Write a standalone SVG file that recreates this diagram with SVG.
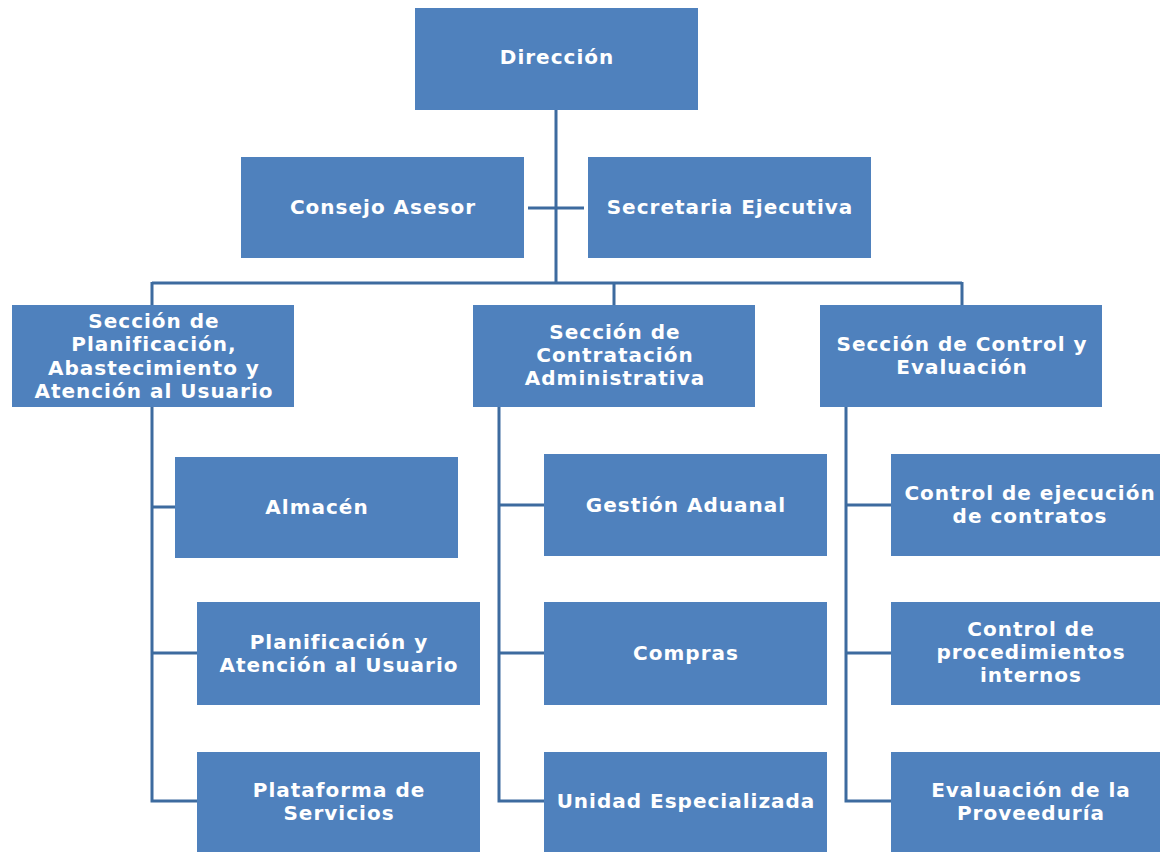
<svg xmlns="http://www.w3.org/2000/svg" width="1160" height="852" viewBox="0 0 1160 852">
<style>
.box{fill:#4F81BD;}
.t{fill:#FFFFFF;font-family:"DejaVu Sans",Verdana,sans-serif;font-weight:bold;font-size:20px;letter-spacing:1px;text-anchor:middle;}
.ln{fill:none;stroke:#3D6B9F;stroke-width:3;}
</style>
<rect width="1160" height="852" fill="#FFFFFF"/>
<g id="connectors">
<path class="ln" d="M556,110 V283 M528,208 H584 M152,283 H962 M152,282 V305 M614,283 V305 M962,282 V305"/>
<path class="ln" d="M152,407 V801 H197 M152,507 H175 M152,653 H197"/>
<path class="ln" d="M499,407 V801 H544 M499,505 H544 M499,653 H544"/>
<path class="ln" d="M846,407 V801 H891 M846,505 H891 M846,653 H891"/>
</g>
<g id="direccion"><rect class="box" x="415" y="8" width="283" height="102"/><text class="t" x="557" y="64">Dirección</text></g>
<g id="consejo"><rect class="box" x="241" y="157" width="283" height="101"/><text class="t" x="383" y="214">Consejo Asesor</text></g>
<g id="secretaria"><rect class="box" x="588" y="157" width="283" height="101"/><text class="t" x="730" y="214">Secretaria Ejecutiva</text></g>
<g id="seccion-planificacion"><rect class="box" x="12" y="305" width="282" height="102"/><text class="t" x="154" y="328">Sección de</text><text class="t" x="154" y="351">Planificación,</text><text class="t" x="154" y="375">Abastecimiento y</text><text class="t" x="154" y="398">Atención al Usuario</text></g>
<g id="seccion-contratacion"><rect class="box" x="473" y="305" width="282" height="102"/><text class="t" x="615" y="339">Sección de</text><text class="t" x="615" y="362">Contratación</text><text class="t" x="615" y="385">Administrativa</text></g>
<g id="seccion-control"><rect class="box" x="820" y="305" width="282" height="102"/><text class="t" x="962" y="351">Sección de Control y</text><text class="t" x="962" y="374">Evaluación</text></g>
<g id="almacen"><rect class="box" x="175" y="457" width="283" height="101"/><text class="t" x="317" y="514">Almacén</text></g>
<g id="planificacion-atencion"><rect class="box" x="197" y="602" width="283" height="103"/><text class="t" x="339" y="649">Planificación y</text><text class="t" x="339" y="672">Atención al Usuario</text></g>
<g id="plataforma"><rect class="box" x="197" y="752" width="283" height="110"/><text class="t" x="339" y="797">Plataforma de</text><text class="t" x="339" y="820">Servicios</text></g>
<g id="gestion-aduanal"><rect class="box" x="544" y="454" width="283" height="102"/><text class="t" x="686" y="512">Gestión Aduanal</text></g>
<g id="compras"><rect class="box" x="544" y="602" width="283" height="103"/><text class="t" x="686" y="660">Compras</text></g>
<g id="unidad-especializada"><rect class="box" x="544" y="752" width="283" height="110"/><text class="t" x="686" y="808">Unidad Especializada</text></g>
<g id="control-ejecucion"><rect class="box" x="891" y="454" width="283" height="102"/><text class="t" x="1030" y="500">Control de ejecución</text><text class="t" x="1030" y="523">de contratos</text></g>
<g id="control-procedimientos"><rect class="box" x="891" y="602" width="283" height="103"/><text class="t" x="1031" y="636">Control de</text><text class="t" x="1031" y="659">procedimientos</text><text class="t" x="1031" y="682">internos</text></g>
<g id="evaluacion-proveeduria"><rect class="box" x="891" y="752" width="283" height="110"/><text class="t" x="1031" y="797">Evaluación de la</text><text class="t" x="1031" y="820">Proveeduría</text></g>
</svg>
